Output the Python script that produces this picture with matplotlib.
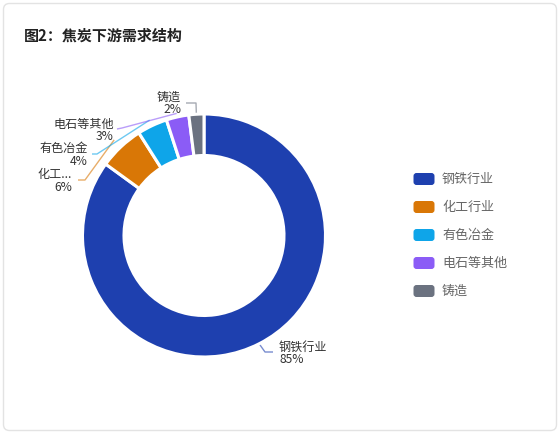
import numpy as np
import matplotlib.pyplot as plt
from matplotlib.patches import FancyBboxPatch

plt.rcParams['font.family'] = ['Noto Sans CJK SC', 'DejaVu Sans']

# data
categories = ['钢铁行业', '化工行业', '有色冶金', '电石等其他', '铸造']
label_names = ['钢铁行业', '化工...', '有色冶金', '电石等其他', '铸造']
shares = [85, 6, 4, 3, 2]
colors = ['#1e40af', '#d97706', '#0ea5e9', '#8b5cf6', '#6b7280']

W, H = 560, 434
fig = plt.figure(figsize=(W / 100, H / 100), dpi=100)
ax = fig.add_axes([0, 0, 1, 1])

# card background
card = FancyBboxPatch((3.5, 3.5), W - 7, H - 7, boxstyle='round,pad=0,rounding_size=6',
                      fc='white', ec='#e3e3e3', lw=1, transform=ax.transData, zorder=0)
ax.add_patch(card)

cx, cy, R = 204, H - 235.5, 121.5
wedges, _ = ax.pie(shares, colors=colors, startangle=90, counterclock=False,
                   center=(cx, cy), radius=R,
                   wedgeprops=dict(width=41.5, edgecolor='white', linewidth=2.2, joinstyle='round'))
for w in wedges:
    w.set_zorder(2)

ax.set_xlim(0, W)
ax.set_ylim(0, H)
ax.set_aspect('equal')
ax.axis('off')

ax.text(24, H - 36, '图2：焦炭下游需求结构', fontsize=10.8, fontweight='bold',
        color='#222222', va='center', ha='left')

# label layout (pixel coords from top-left): elbow point, text end point, text anchor, alignment
elbows = [(265, 352), (85, 180), (97, 154), (122, 128), (196, 103)]
ends = [(273, 352), (78, 180), (92, 154), (117, 129), (186, 103)]
text_pos = [(279, 353), (72, 181), (88, 155), (114, 130), (181, 103)]
aligns = ['left', 'right', 'right', 'right', 'right']
start_r = [1.0, 1.08, 1.05, 1.03, 1.0]

for w, name, s, col, el, en, tp, al, sr in zip(wedges, label_names, shares, colors,
                                               elbows, ends, text_pos, aligns, start_r):
    mid = np.deg2rad((w.theta1 + w.theta2) / 2)
    sx = cx + R * sr * np.cos(mid)
    sy = cy + R * sr * np.sin(mid)
    ax.plot([sx, el[0], en[0]], [sy, H - el[1], H - en[1]], color=col, lw=1,
            alpha=0.6, solid_capstyle='butt', zorder=1)
    ax.text(tp[0], H - tp[1], f'{name}\n{s}%', fontsize=8.7, color='#333333',
            ha=al, va='center', multialignment=al, linespacing=0.92)

# legend
for i, (cat, col) in enumerate(zip(categories, colors)):
    y = H - (179 + 28 * i)
    sw = FancyBboxPatch((413.5, y - 6), 21, 12, boxstyle='round,pad=0,rounding_size=3',
                        fc=col, ec='none', zorder=3)
    ax.add_patch(sw)
    ax.text(442, y, cat, fontsize=9.4, color='#666666', va='center', ha='left')

fig.savefig('out.png', dpi=100)
